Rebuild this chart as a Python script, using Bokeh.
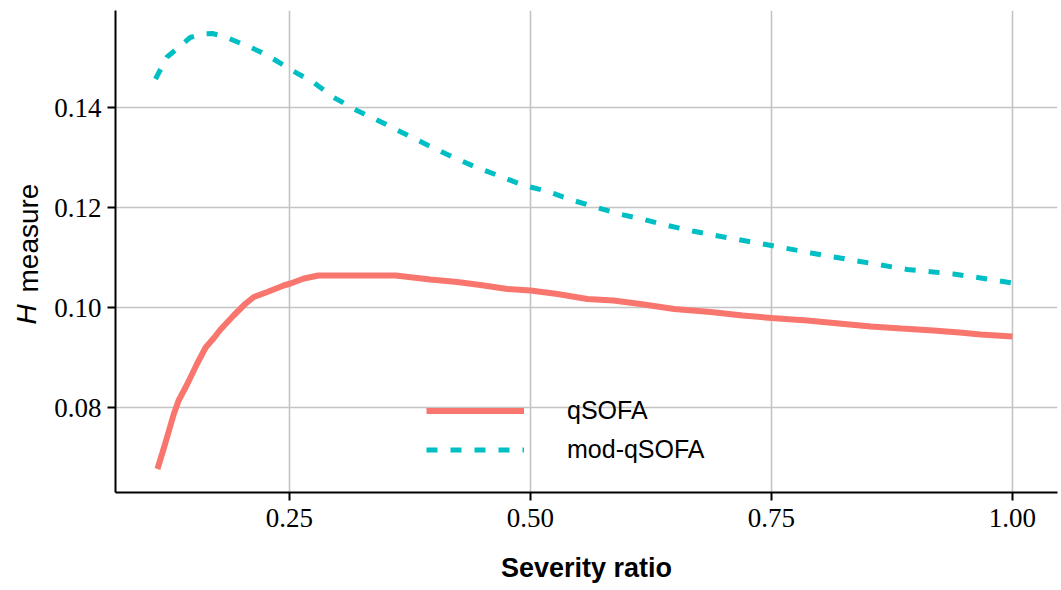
from bokeh.plotting import figure
from bokeh.models import Range1d, FixedTicker, Legend, LegendItem, Title
from bokeh.embed import file_html
from bokeh.resources import INLINE

# ---- data ----
severity_qsofa = [0.113, 0.120, 0.130, 0.135, 0.144, 0.154, 0.163, 0.172, 0.178,
                  0.192, 0.204, 0.213, 0.227, 0.244, 0.251, 0.265, 0.280, 0.300,
                  0.330, 0.360, 0.396, 0.424, 0.448, 0.476, 0.500, 0.528, 0.559,
                  0.586, 0.614, 0.649, 0.687, 0.720, 0.750, 0.787, 0.820, 0.853,
                  0.885, 0.918, 0.945, 0.967, 1.000]
h_qsofa = [0.0677, 0.0721, 0.0787, 0.0814, 0.0847, 0.0887, 0.0920, 0.0940, 0.0955,
           0.0984, 0.1007, 0.1021, 0.1031, 0.1044, 0.1048, 0.1058, 0.1064, 0.1064,
           0.1064, 0.1064, 0.1056, 0.1051, 0.1045, 0.1037, 0.1034, 0.1027, 0.1017,
           0.1014, 0.1007, 0.0997, 0.0991, 0.0984, 0.0979, 0.0974, 0.0968, 0.0962,
           0.0958, 0.0954, 0.0950, 0.0946, 0.0942]

severity_mod = [0.111, 0.123, 0.133, 0.147, 0.160, 0.170, 0.185, 0.196, 0.210,
                0.220, 0.235, 0.251, 0.275, 0.296, 0.320, 0.344, 0.370, 0.394,
                0.419, 0.443, 0.469, 0.493, 0.517, 0.541, 0.567, 0.592, 0.618,
                0.642, 0.668, 0.692, 0.750, 0.791, 0.842, 0.891, 0.939, 0.967,
                1.000]
h_mod = [0.1457, 0.1501, 0.1517, 0.1540, 0.1547, 0.1548, 0.1540, 0.1531, 0.1520,
         0.1511, 0.1495, 0.1476, 0.1450, 0.1420, 0.1394, 0.1372, 0.1347, 0.1324,
         0.1301, 0.1281, 0.1262, 0.1244, 0.1233, 0.1216, 0.1201, 0.1187, 0.1176,
         0.1164, 0.1153, 0.1144, 0.1124, 0.1109, 0.1092, 0.1076, 0.1067, 0.1059,
         0.1049]

series_names = ["qSOFA", "mod-qSOFA"]
series_colors = ["#F8766D", "#00BFC4"]

x_ticks = [0.25, 0.50, 0.75, 1.00]
x_tick_labels = ["0.25", "0.50", "0.75", "1.00"]
y_ticks = [0.08, 0.10, 0.12, 0.14]
y_tick_labels = ["0.08", "0.10", "0.12", "0.14"]

x_title = "Severity ratio"
y_title_italic = "H"
y_title_rest = "measure"

# ---- figure ----
p = figure(width=1061, height=590, output_backend="svg", toolbar_location=None,
           x_range=Range1d(0.0695, 1.0467), y_range=Range1d(0.0630, 0.1594),
           min_border_left=115, min_border_right=4, min_border_top=10,
           min_border_bottom=98)
p.outline_line_color = None
p.background_fill_color = "white"
p.border_fill_color = "white"

p.xaxis.ticker = FixedTicker(ticks=x_ticks)
p.yaxis.ticker = FixedTicker(ticks=y_ticks)
p.xaxis.major_label_overrides = dict(zip(x_ticks, x_tick_labels))
p.yaxis.major_label_overrides = dict(zip(y_ticks, y_tick_labels))

for ax in (p.xaxis[0], p.yaxis[0]):
    ax.axis_line_color = "black"
    ax.axis_line_width = 2
    ax.major_tick_line_color = "black"
    ax.major_tick_line_width = 2
    ax.major_tick_out = 8
    ax.major_tick_in = 0
    ax.minor_tick_out = 0
    ax.minor_tick_in = 0
    ax.major_label_text_font = "Liberation Serif"
    ax.major_label_text_font_size = "27px"
    ax.major_label_text_color = "black"
p.xaxis.major_label_standoff = 8
p.yaxis.major_label_standoff = 6

# x title on the x axis itself
p.xaxis.axis_label = x_title
p.xaxis.axis_label_standoff = 23
p.xaxis.axis_label_text_font = "Liberation Sans"
p.xaxis.axis_label_text_font_size = "27px"
p.xaxis.axis_label_text_font_style = "bold"
p.xaxis.axis_label_text_color = "black"

# y title: "measure" and italic "H" in one column (side-panel titles)
p.add_layout(Title(text=y_title_rest, align="left", offset=200, standoff=16,
                   text_font="Liberation Sans", text_font_size="28px",
                   text_font_style="normal", text_color="black"), "left")
p.add_layout(Title(text=y_title_italic, align="left", offset=168, standoff=-78,
                   text_font="Liberation Sans", text_font_size="28px",
                   text_font_style="italic", text_color="black"), "left")

for g in (p.xgrid[0], p.ygrid[0]):
    g.grid_line_color = "#c4c4c4"
    g.grid_line_width = 1.6
    g.minor_grid_line_color = None

r_q = p.line(severity_qsofa, h_qsofa, line_color=series_colors[0], line_width=6)
r_m = p.line(severity_mod, h_mod, line_color=series_colors[1], line_width=5,
             line_dash="11 13")

legend = Legend(items=[LegendItem(label=series_names[0], renderers=[r_q]),
                       LegendItem(label=series_names[1], renderers=[r_m])],
                location=(311, 23), glyph_width=98, glyph_height=39,
                label_height=39, label_standoff=43, spacing=0, padding=0,
                margin=0, border_line_alpha=0, background_fill_alpha=0,
                label_text_font="Liberation Sans", label_text_font_size="25px",
                label_text_color="black")
p.add_layout(legend)

open("out.html", "w").write(file_html(p, INLINE))
